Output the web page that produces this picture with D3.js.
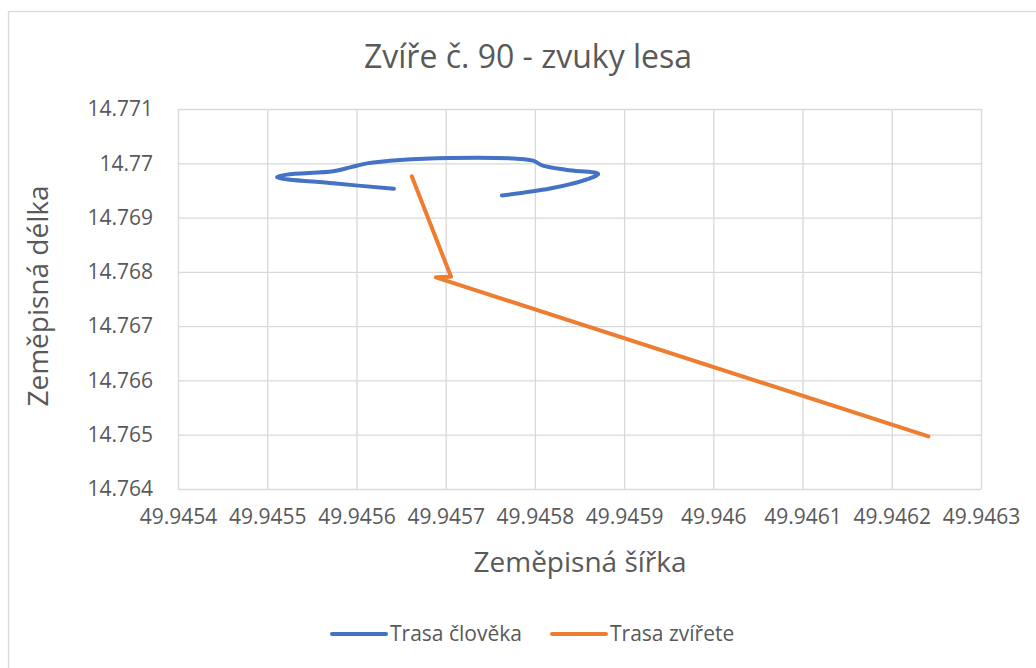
<!DOCTYPE html>
<html>
<head>
<meta charset="utf-8">
<script src="https://cdn.jsdelivr.net/npm/d3@7"></script>
<style>
  body { margin: 0; background: #fff; }
  svg text { font-family: "Open Sans", "Noto Sans", sans-serif; fill: #595959; }
</style>
</head>
<body>
<script>
// human track (longitude on x, latitude on y as in the source sheet)
const humanLat = [49.945763, 49.945817, 49.945854, 49.945871, 49.945836, 49.945809, 49.945798,
    49.945780, 49.945705, 49.945649, 49.945612, 49.945593, 49.945574, 49.945522, 49.945511,
    49.945574, 49.945642];
const humanLon = [14.769407, 14.769535, 14.769681, 14.769804, 14.769877, 14.769956, 14.770048,
    14.770084, 14.770097, 14.770060, 14.769998, 14.769925, 14.769852, 14.769791, 14.769742,
    14.769632, 14.769529];

// animal track
const animalLat = [49.945662, 49.945706, 49.945689, 49.946241];
const animalLon = [14.769760, 14.767910, 14.767899, 14.764969];

const xTicks = [49.9454, 49.9455, 49.9456, 49.9457, 49.9458, 49.9459, 49.946, 49.9461, 49.9462, 49.9463];
const yTicks = [14.764, 14.765, 14.766, 14.767, 14.768, 14.769, 14.77, 14.771];

const seriesNames = ['Trasa člověka', 'Trasa zvířete'];
const seriesColors = ['#4472c4', '#ed7d31'];

const W = 1036, H = 668;
const margin = {top: 109, right: 55, bottom: 179, left: 178};
const width = W - margin.left - margin.right,
    height = H - margin.top - margin.bottom;

const svg = d3.select('body').append('svg')
    .attr('width', W)
    .attr('height', H);

// chart frame (only left/top edges fall inside the picture)
svg.append('rect')
    .attr('x', 8.5).attr('y', 11.5)
    .attr('width', W + 20).attr('height', H + 20)
    .attr('fill', '#fff')
    .attr('stroke', '#d9d9d9')
    .attr('stroke-width', 1.3);

const x = d3.scaleLinear().domain([49.9454, 49.9463]).range([0, width]);
const y = d3.scaleLinear().domain([14.764, 14.771]).range([height, 0]);

const g = svg.append('g')
    .attr('transform', `translate(${margin.left}, ${margin.top})`);

// gridlines
g.append('g')
    .call(d3.axisBottom(x).tickValues(xTicks).tickSize(height).tickFormat(''))
    .call(s => s.select('.domain').remove())
    .selectAll('line').attr('stroke', '#d9d9d9').attr('stroke-width', 1.3);

g.append('g')
    .call(d3.axisLeft(y).tickValues(yTicks).tickSize(-width).tickFormat(''))
    .call(s => s.select('.domain').remove())
    .selectAll('line').attr('stroke', '#d9d9d9').attr('stroke-width', 1.3);

// tick labels
const xAxis = g.append('g')
    .attr('transform', `translate(0, ${height})`)
    .call(d3.axisBottom(x).tickValues(xTicks).tickSize(0).tickPadding(20).tickFormat(d => String(+d.toFixed(4))));
xAxis.select('.domain').remove();
xAxis.selectAll('text').attr('font-size', 21).attr('fill', '#595959')
    .style('font-family', '"Open Sans", sans-serif');

const yAxis = g.append('g')
    .call(d3.axisLeft(y).tickValues(yTicks).tickSize(0).tickPadding(25).tickFormat(d => String(+d.toFixed(3))));
yAxis.select('.domain').remove();
yAxis.selectAll('text').attr('font-size', 21).attr('fill', '#595959')
    .style('font-family', '"Open Sans", sans-serif');

// series
const line = d3.line().x(d => x(d[0])).y(d => y(d[1]));

g.append('path')
    .datum(d3.zip(humanLat, humanLon))
    .attr('fill', 'none')
    .attr('stroke', seriesColors[0])
    .attr('stroke-width', 4)
    .attr('stroke-linecap', 'round')
    .attr('stroke-linejoin', 'round')
    .attr('d', line.curve(d3.curveCatmullRom.alpha(0.5)));

g.append('path')
    .datum(d3.zip(animalLat, animalLon))
    .attr('fill', 'none')
    .attr('stroke', seriesColors[1])
    .attr('stroke-width', 4)
    .attr('stroke-linecap', 'round')
    .attr('stroke-linejoin', 'round')
    .attr('d', line.curve(d3.curveLinear));

// titles
svg.append('text')
    .attr('x', 528).attr('y', 68)
    .attr('text-anchor', 'middle')
    .attr('font-size', 32)
    .text('Zvíře č. 90 - zvuky lesa');

svg.append('text')
    .attr('x', 580).attr('y', 572)
    .attr('text-anchor', 'middle')
    .attr('font-size', 28)
    .text('Zeměpisná šířka');

svg.append('text')
    .attr('transform', 'translate(48, 296) rotate(-90)')
    .attr('text-anchor', 'middle')
    .attr('font-size', 28)
    .text('Zeměpisná délka');

// legend
const legend = svg.append('g').attr('transform', 'translate(332, 634)');
const legendX = [0, 220];
seriesNames.forEach((name, i) => {
    const item = legend.append('g').attr('transform', `translate(${legendX[i]}, 0)`);
    item.append('line')
        .attr('x1', 0).attr('x2', 54)
        .attr('stroke', seriesColors[i])
        .attr('stroke-width', 4)
        .attr('stroke-linecap', 'round');
    item.append('text')
        .attr('x', 58).attr('y', 7)
        .attr('font-size', 21)
        .text(name);
});
</script>
</body>
</html>
